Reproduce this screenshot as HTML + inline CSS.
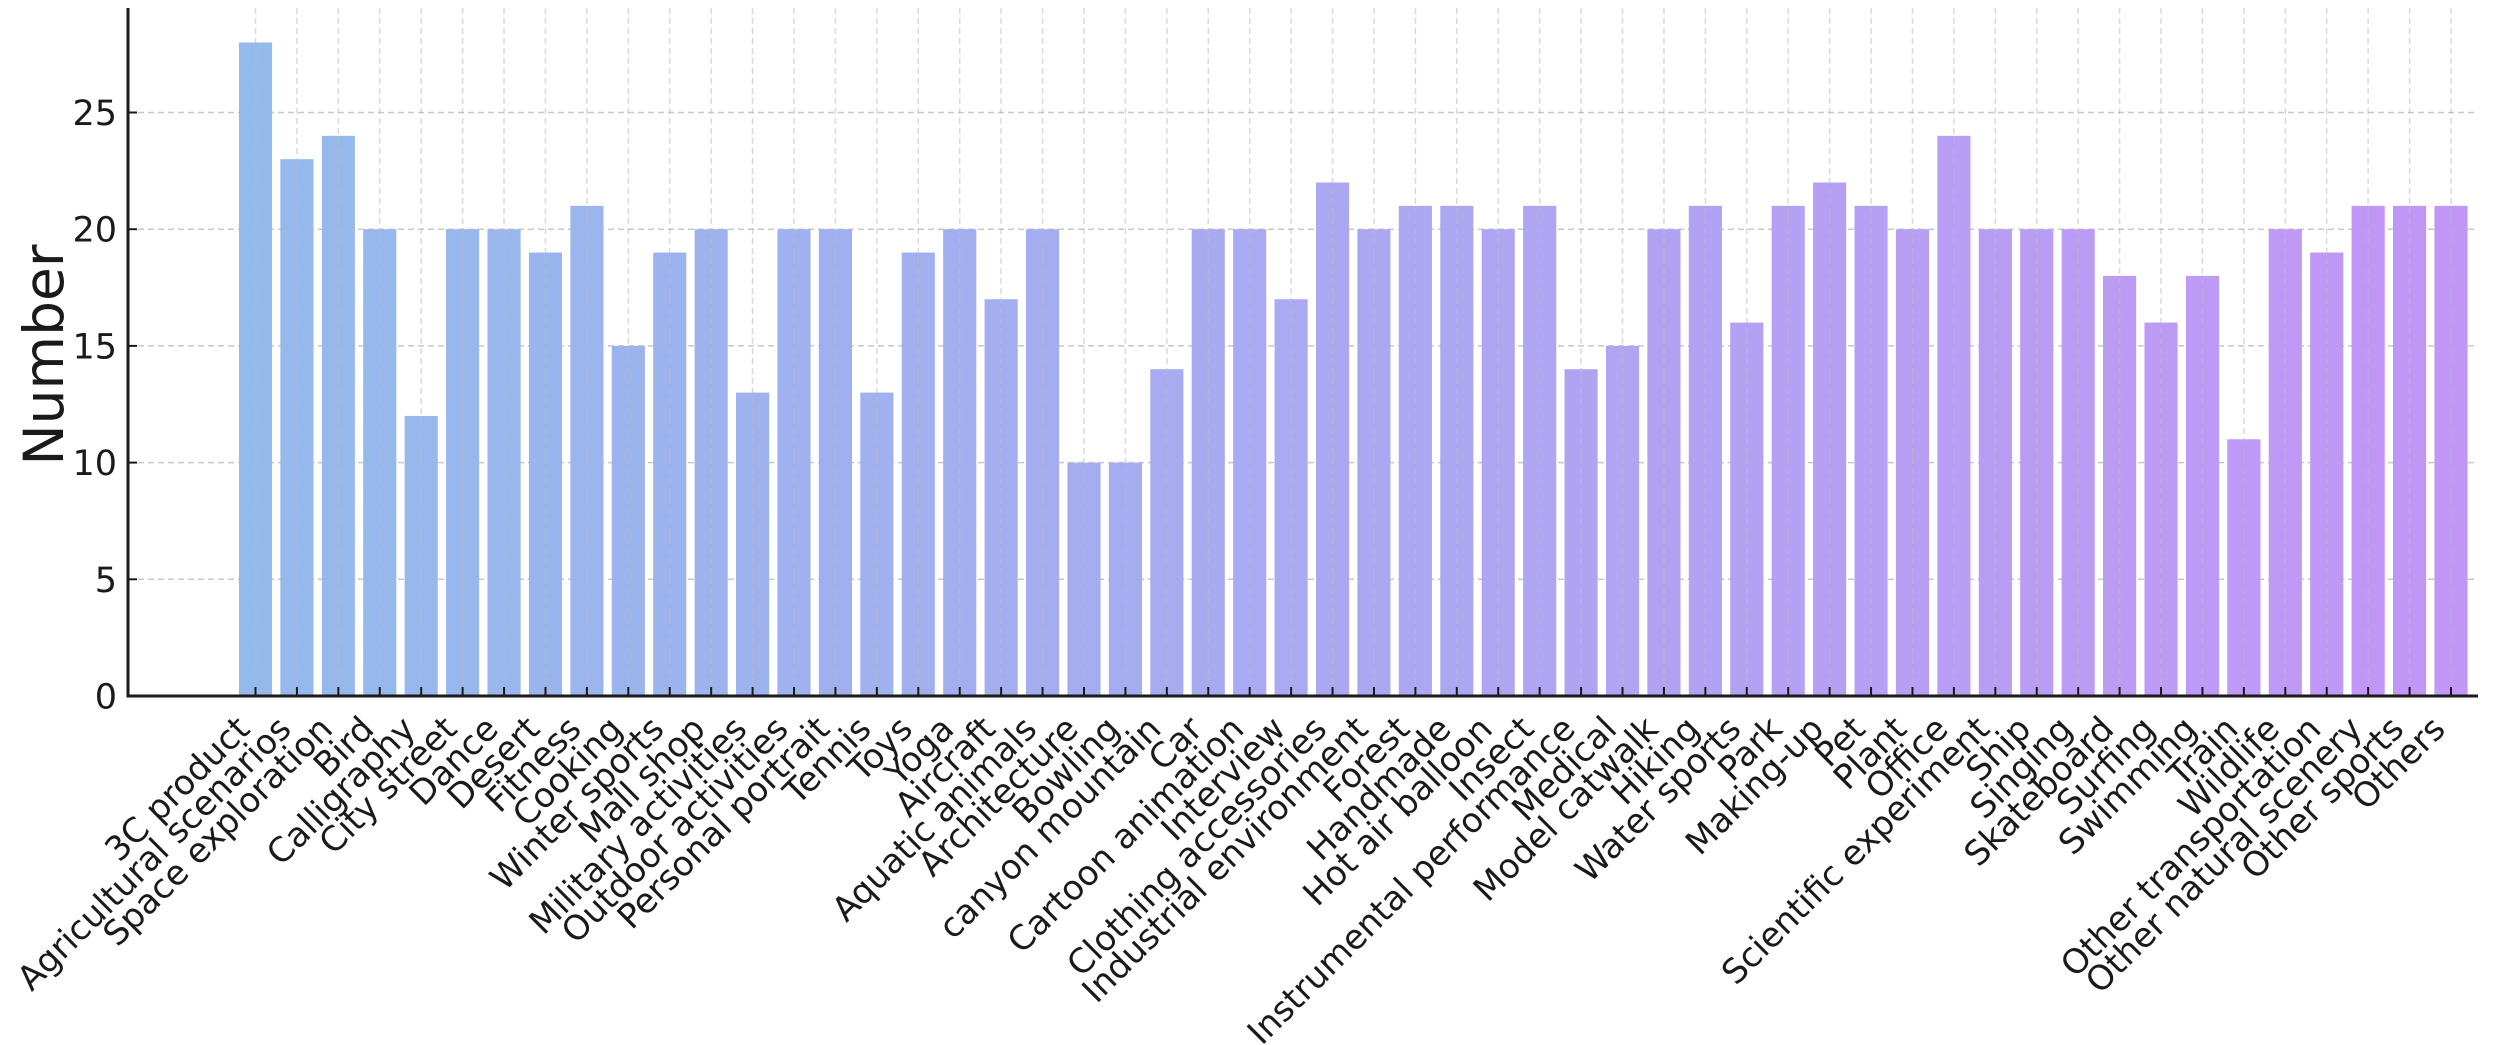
<!DOCTYPE html>
<html><head><meta charset="utf-8"><style>
html,body{margin:0;padding:0;background:#fff;}
svg{display:block;}
text{font-family:"DejaVu Sans","Liberation Sans",sans-serif;fill:#1a1a1a;}
</style></head><body>
<svg id="c" width="2500" height="1045" xmlns="http://www.w3.org/2000/svg"></svg>
<script>
const cats=["3C product","Agricultural scenarios","Space exploration","Bird","Calligraphy","City street","Dance","Desert","Fitness","Cooking","Winter sports","Mall shop","Military activities","Outdoor activities","Personal portrait","Tennis","Toys","Yoga","Aircraft","Aquatic animals","Architecture","Bowling","canyon mountain","Car","Cartoon animation","Interview","Clothing accessories","Industrial environment","Forest","Handmade","Hot air balloon","Insect","Instrumental performance","Medical","Model catwalk","Hiking","Water sports","Park","Making-up","Pet","Plant","Office","Scientific experiment","Ship","Singing","Skateboard","Surfing","Swimming","Train","Wildlife","Other transportation","Other natural scenery","Other sports","Others"];
const vals=[28,23,24,20,12,20,20,19,21,15,19,20,13,20,20,13,19,20,17,20,10,10,14,20,20,17,22,20,21,21,20,21,14,15,20,21,16,21,22,21,20,24,20,20,20,18,16,18,11,20,19,21,21,21];
const L=128,R=2478,T=8,B=696,x0=255.5,step=(2451-255.5)/53,bw=step*0.8,u=116.7/5;
let s='';
for(let v=0;v<=25;v+=5){const y=B-v*u;s+=`<line x1="${L}" x2="${R}" y1="${y}" y2="${y}" stroke="#c8c8c8" stroke-width="1.5" stroke-dasharray="6,4"/>`;}
const c0=[148,186,236],c1=[194,150,246];
vals.forEach((v,i)=>{const t=i/53;const col=c0.map((a,k)=>Math.round(a+(c1[k]-a)*t));const x=x0+i*step;
s+=`<rect x="${x-bw/2}" y="${B-v*u}" width="${bw}" height="${v*u}" fill="rgb(${col})"/>`;});
for(let i=0;i<54;i++){const x=x0+i*step;s+=`<line x1="${x}" x2="${x}" y1="${T}" y2="${B}" stroke="#bbbbbb" stroke-opacity="0.55" stroke-width="1.5" stroke-dasharray="6,4"/>`;}
s+=`<line x1="${L}" x2="${L}" y1="${T}" y2="${B+1.5}" stroke="#1a1a1a" stroke-width="3"/>`;
s+=`<line x1="${L-1.5}" x2="${R}" y1="${B}" y2="${B}" stroke="#1a1a1a" stroke-width="3"/>`;
for(let v=0;v<=25;v+=5){const y=B-v*u;s+=`<line x1="${L}" x2="${L+9}" y1="${y}" y2="${y}" stroke="#1a1a1a" stroke-width="2"/>`;
s+=`<text x="117" y="${y+12.5}" font-size="35" text-anchor="end">${v}</text>`;}
cats.forEach((c,i)=>{const x=x0+i*step;s+=`<line x1="${x}" x2="${x}" y1="${B}" y2="${B-9}" stroke="#1a1a1a" stroke-width="2"/>`;
s+=`<text font-size="34" text-anchor="end" transform="translate(${x-4},731) rotate(-45)">${c}</text>`;});
s+=`<text font-size="55" text-anchor="middle" transform="translate(63,355) rotate(-90)">Number</text>`;
document.getElementById('c').innerHTML=s;
</script>
</body></html>
